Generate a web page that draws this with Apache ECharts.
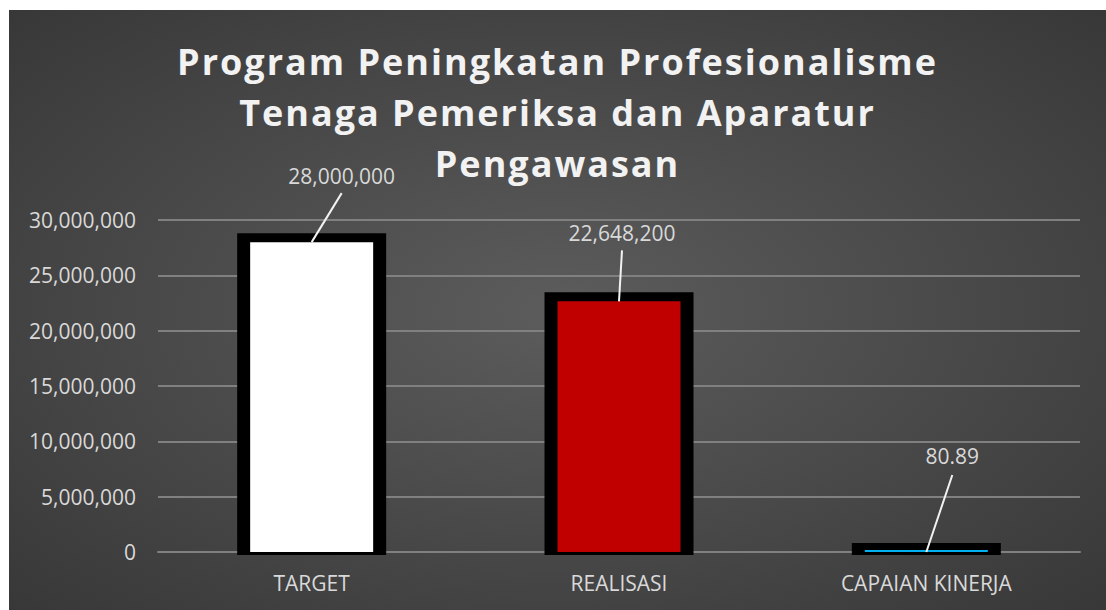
<!DOCTYPE html>
<html>
<head>
<meta charset="utf-8">
<script src="https://cdn.jsdelivr.net/npm/echarts@6/dist/echarts.min.js"></script>
<style>
  html, body { margin: 0; padding: 0; background: #ffffff; }
  #chart { position: absolute; left: 9px; top: 10px; width: 1097px; height: 600px; }
  /* judul pakai jarak huruf seperti di Excel */
  #chart text[style*="36px"] { letter-spacing: 2px; }
</style>
</head>
<body>
<div id="chart"></div>
<script>
  // data grafik
  var categories = ['TARGET', 'REALISASI', 'CAPAIAN KINERJA'];
  var values = [28000000, 22648200, 80.89];
  var barColors = ['#ffffff', '#c00000', '#00b0f0'];
  var yTicks = [0, 5000000, 10000000, 15000000, 20000000, 25000000, 30000000];

  // geser label data (dx, dy dari puncak batang)
  var labelShift = [[30, -66], [3, -68], [26, -94]];

  var myChart = echarts.init(document.getElementById('chart'), null, { renderer: 'svg' });

  var option = {
    animation: false,
    backgroundColor: {
      type: 'radial', x: 0.5, y: 0.5, r: 1.05,
      colorStops: [
        { offset: 0, color: '#5c5c5c' },
        { offset: 1, color: '#262626' }
      ]
    },
    title: {
      text: 'Program Peningkatan Profesionalisme\nTenaga Pemeriksa dan Aparatur\nPengawasan',
      left: 'center',
      top: 21,
      textStyle: {
        color: '#f2f2f2',
        fontFamily: 'Open Sans',
        fontWeight: 'bold',
        fontSize: 36,
        lineHeight: 51
      }
    },
    grid: {
      left: 149,
      right: 26,
      top: 210,
      bottom: 58
    },
    xAxis: {
      type: 'category',
      data: categories,
      axisTick: { show: false },
      axisLine: { lineStyle: { color: '#808080', width: 2 } },
      axisLabel: {
        color: '#d9d9d9',
        fontFamily: 'Open Sans',
        fontSize: 21,
        margin: 20
      }
    },
    yAxis: {
      type: 'value',
      min: yTicks[0],
      max: yTicks[yTicks.length - 1],
      interval: yTicks[1] - yTicks[0],
      axisLine: { show: false },
      axisTick: { show: false },
      splitLine: { lineStyle: { color: '#808080', width: 2 } },
      axisLabel: {
        color: '#d9d9d9',
        fontFamily: 'Open Sans',
        fontSize: 21,
        margin: 22,
        formatter: function (v) { return v.toLocaleString('en-US'); }
      }
    },
    series: [
      {
        // bingkai hitam di belakang batang
        type: 'custom',
        z: 1,
        silent: true,
        data: values.map(function (v, i) { return [i, v]; }),
        renderItem: function (params, api) {
          var top = api.coord([api.value(0), api.value(1)]);
          var base = api.coord([api.value(0), 0]);
          return {
            type: 'rect',
            shape: { x: top[0] - 74.5, y: top[1] - 9, width: 149, height: base[1] - top[1] + 12 },
            style: { fill: '#000000' }
          };
        }
      },
      {
        type: 'bar',
        z: 2,
        barWidth: 123,
        barMinHeight: 2,
        data: values.map(function (v, i) {
          return { value: v, itemStyle: { color: barColors[i] } };
        }),
        label: {
          show: true,
          position: 'top',
          color: '#d9d9d9',
          fontFamily: 'Open Sans',
          fontSize: 21,
          formatter: function (p) { return p.value.toLocaleString('en-US'); }
        },
        labelLayout: function (p) {
          var s = labelShift[p.dataIndex];
          return {
            x: p.rect.x + p.rect.width / 2 + s[0],
            y: p.rect.y + s[1],
            align: 'center',
            verticalAlign: 'middle'
          };
        }
      },
      {
        // garis penunjuk label
        type: 'custom',
        z: 3,
        silent: true,
        data: values.map(function (v, i) { return [i, v]; }),
        renderItem: function (params, api) {
          var top = api.coord([api.value(0), api.value(1)]);
          var s = labelShift[params.dataIndex];
          return {
            type: 'line',
            shape: { x1: top[0], y1: top[1], x2: top[0] + s[0], y2: top[1] + s[1] + 17 },
            style: { stroke: '#f2f2f2', lineWidth: 2 }
          };
        }
      }
    ]
  };

  myChart.setOption(option);

  window.addEventListener('resize', function () {
    myChart.resize();
  });
</script>
</body>
</html>
